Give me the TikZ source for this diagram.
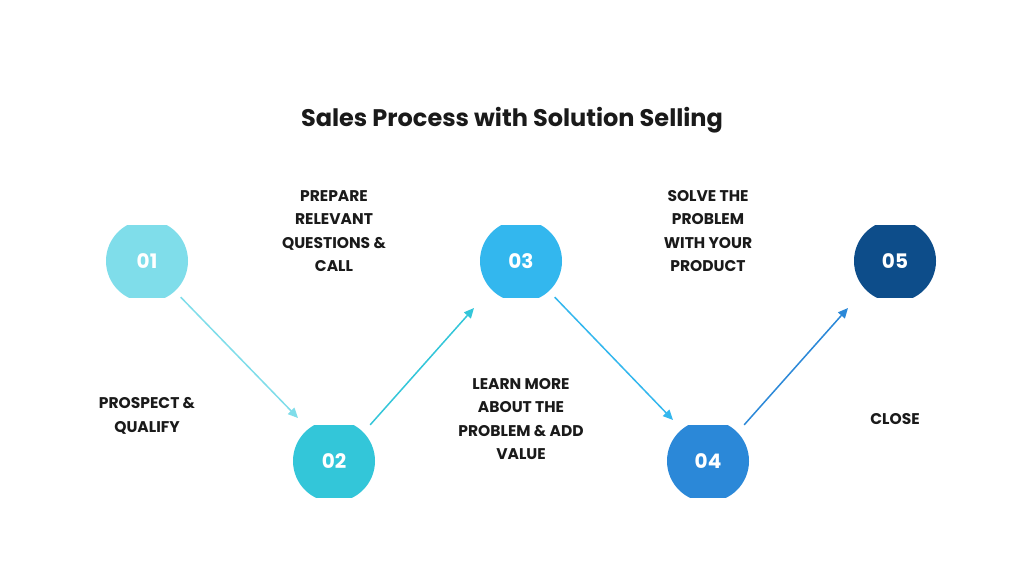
\documentclass[tikz,border=0pt]{standalone}
\usepackage{fontspec}
\setmainfont{Poppins}
\usetikzlibrary{arrows.meta}
\definecolor{stepA}{HTML}{7FDDEA}
\definecolor{stepB}{HTML}{33C6D9}
\definecolor{stepC}{HTML}{33B7EE}
\definecolor{stepD}{HTML}{2B88D8}
\definecolor{stepE}{HTML}{0D4D8A}
\definecolor{inkc}{HTML}{1A1A1A}
\tikzset{
  step/.style={minimum width=82pt, minimum height=72pt, inner sep=0pt,
    text=white, font=\bfseries\fontsize{20}{20}\selectfont,
    path picture={\fill[#1] (path picture bounding box.center) circle (41pt);}},
  caption/.style={align=center, text=inkc, font=\bfseries\fontsize{15.5}{23.5}\selectfont},
  link/.style={#1, line width=1.5pt, -{Triangle[width=9pt,length=10pt]}}
}
\begin{document}
\begin{tikzpicture}[x=1pt,y=-1pt]
\useasboundingbox (0,0) rectangle (1024,576);
\fill[white] (0,0) rectangle (1024,576);
\node[text=inkc, font=\bfseries\fontsize{24}{24}\selectfont] (title) at (512,120) {Sales Process with Solution Selling};
% steps
\node[step=stepA] (s1) at (147,261) {01};
\node[step=stepB] (s2) at (334,461) {02};
\node[step=stepC] (s3) at (521,261) {03};
\node[step=stepD] (s4) at (708,461) {04};
\node[step=stepE] (s5) at (895,261) {05};
% captions
\node[caption] (c1) at (147,416) {PROSPECT \&\\QUALIFY};
\node[caption] (c2) at (334,231) {PREPARE\\RELEVANT\\QUESTIONS \&\\CALL};
\node[caption] (c3) at (521,419) {LEARN MORE\\ABOUT THE\\PROBLEM \& ADD\\VALUE};
\node[caption] (c4) at (708,231) {SOLVE THE\\PROBLEM\\WITH YOUR\\PRODUCT};
\node[caption] (c5) at (895,419) {CLOSE};
% arrows
\coordinate (a1) at (298,418);
\coordinate (a2) at (474,308);
\coordinate (a3) at (673,420);
\coordinate (a4) at (848,308);
\draw[link=stepA] (s1.-47) -- (a1);
\draw[link=stepB] (s2.45) -- (a2);
\draw[link=stepC] (s3.-47) -- (a3);
\draw[link=stepD] (s4.45) -- (a4);
\end{tikzpicture}
\end{document}
